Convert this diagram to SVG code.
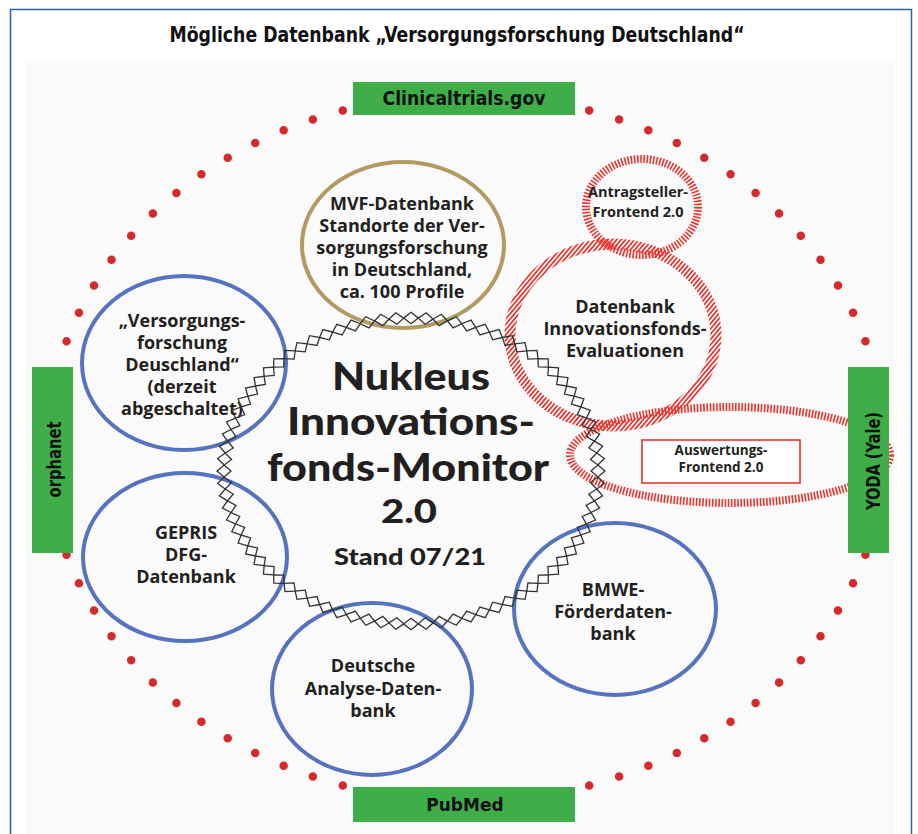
<svg xmlns="http://www.w3.org/2000/svg" xmlns:xlink="http://www.w3.org/1999/xlink" width="918" height="834" viewBox="0 0 918 834">
<style>
.t{font-family:"Open Sans","Noto Sans","DejaVu Sans",sans-serif;font-weight:700;fill:#231f20;text-anchor:middle}
.n18{font-size:18px}
.n13{font-size:13.5px}
.big{font-family:Lato,"Open Sans","DejaVu Sans",sans-serif;font-weight:900;fill:#231f20;text-anchor:middle}
.gbox{fill:#3fae49}
.gl{font-family:"DejaVu Sans Condensed","DejaVu Sans",sans-serif;font-stretch:condensed;font-weight:700;fill:#111;text-anchor:middle}
.blue{fill:none;stroke:#5573c0;stroke-width:4}
.gold{fill:none;stroke:#b39a62;stroke-width:4}
.hatch{fill:none;stroke:#e8352e;stroke-dasharray:1.6 1.6}
.dm{fill:none;stroke:#333;stroke-width:1.3;vector-effect:non-scaling-stroke}
</style>
<defs>
<pattern id="diag" patternUnits="userSpaceOnUse" width="3.4" height="3.4" patternTransform="rotate(40)">
<rect x="0" y="0" width="1.7" height="3.4" fill="#e8352e"/>
</pattern>
<polygon id="dm" class="dm" points="-7.34,-186.9 0,-194 7.34,-186.9 0,-180"/>
</defs>

<rect x="10.5" y="9.5" width="901" height="840" fill="#fff" stroke="#2a62a8" stroke-width="1.5"/>
<rect x="26" y="60" width="868" height="790" fill="#fafafa"/>
<text class="gl" x="457" y="42" font-size="21" textLength="575" lengthAdjust="spacingAndGlyphs">Mögliche Datenbank „Versorgungsforschung Deutschland“</text>

<g id="dotted-ring">
<path d="M466 95 A419 353 0 1 1 466 801 A419 353 0 1 1 466 95 Z" pathLength="78" fill="none" stroke="#d42a2c" stroke-width="8.5" stroke-linecap="round" stroke-dasharray="0 1"/>
</g>

<g id="clinicaltrials">
<rect class="gbox" x="353" y="82" width="222" height="33"/>
<text class="gl" x="464" y="105" font-size="19" textLength="163" lengthAdjust="spacingAndGlyphs">Clinicaltrials.gov</text>
</g>
<g id="pubmed">
<rect class="gbox" x="353" y="787" width="222" height="35"/>
<text x="465" y="811" font-family="'DejaVu Sans',sans-serif" font-weight="700" font-size="17" fill="#111" text-anchor="middle">PubMed</text>
</g>
<g id="orphanet">
<rect class="gbox" x="32" y="367" width="41" height="186"/>
<text class="gl" transform="translate(61 459.5) rotate(-90)" font-size="19" textLength="76" lengthAdjust="spacingAndGlyphs">orphanet</text>
</g>

<g id="auswertungs">
<ellipse class="hatch" cx="730" cy="455" rx="160" ry="48" stroke-width="8"/>
<rect x="642" y="440" width="158" height="43" fill="#fff" stroke="#e8352e" stroke-width="1.6"/>
<text class="t n13" x="721" y="455">Auswertungs-</text>
<text class="t n13" x="721" y="472">Frontend 2.0</text>
</g>

<g id="yoda">
<rect class="gbox" x="848" y="367" width="41" height="186"/>
<text class="gl" transform="translate(880 461) rotate(-90)" font-size="19" textLength="98" lengthAdjust="spacingAndGlyphs">YODA (Yale)</text>
</g>

<g id="mvf">
<ellipse class="gold" cx="403" cy="245" rx="101" ry="83"/>
<text class="t n18" x="402" y="210">MVF-Datenbank</text>
<text class="t n18" x="402" y="232">Standorte der Ver-</text>
<text class="t n18" x="402" y="254">sorgungsforschung</text>
<text class="t n18" x="402" y="276">in Deutschland,</text>
<text class="t n18" x="402" y="298">ca. 100 Profile</text>
</g>

<g id="versorgungsforschung">
<ellipse class="blue" cx="184" cy="363" rx="102" ry="87"/>
<text class="t n18" x="182" y="327">„Versorgungs-</text>
<text class="t n18" x="182" y="349">forschung</text>
<text class="t n18" x="182" y="371">Deuschland“</text>
<text class="t n18" x="182" y="393">(derzeit</text>
<text class="t n18" x="182" y="415">abgeschaltet)</text>
</g>

<g id="gepris">
<ellipse class="blue" cx="185" cy="557" rx="102" ry="84"/>
<text class="t n18" x="186" y="539">GEPRIS</text>
<text class="t n18" x="186" y="561">DFG-</text>
<text class="t n18" x="186" y="583">Datenbank</text>
</g>

<g id="analyse">
<ellipse class="blue" cx="372" cy="689" rx="100" ry="86"/>
<text class="t n18" x="373" y="672">Deutsche</text>
<text class="t n18" x="373" y="695">Analyse-Daten-</text>
<text class="t n18" x="373" y="717">bank</text>
</g>

<g id="bmwe">
<ellipse class="blue" cx="615" cy="609" rx="101" ry="86"/>
<text class="t n18" x="613" y="596">BMWE-</text>
<text class="t n18" x="613" y="618">Förderdaten-</text>
<text class="t n18" x="613" y="640">bank</text>
</g>

<g id="antragsteller">
<ellipse class="hatch" cx="642" cy="207" rx="56" ry="48" stroke-width="8"/>
<text class="t" font-size="14.5" x="638" y="197">Antragsteller-</text>
<text class="t" font-size="14.5" x="638" y="217">Frontend 2.0</text>
</g>

<g id="innovationsfonds-db">
<ellipse cx="613" cy="335" rx="103" ry="91" fill="none" stroke="url(#diag)" stroke-width="11"/>
<text class="t n18" x="625" y="313">Datenbank</text>
<text class="t n18" x="625" y="335">Innovationsfonds-</text>
<text class="t n18" x="625" y="357">Evaluationen</text>
</g>

<g id="nukleus">
<g id="zigzag" transform="translate(411 471) scale(1 0.818)">
<g id="z8">
<use xlink:href="#dm" href="#dm"/>
<use xlink:href="#dm" href="#dm" transform="rotate(4.5)"/>
<use xlink:href="#dm" href="#dm" transform="rotate(9)"/>
<use xlink:href="#dm" href="#dm" transform="rotate(13.5)"/>
<use xlink:href="#dm" href="#dm" transform="rotate(18)"/>
<use xlink:href="#dm" href="#dm" transform="rotate(22.5)"/>
<use xlink:href="#dm" href="#dm" transform="rotate(27)"/>
<use xlink:href="#dm" href="#dm" transform="rotate(31.5)"/>
</g>
<use xlink:href="#z8" href="#z8" transform="rotate(36)"/>
<use xlink:href="#z8" href="#z8" transform="rotate(72)"/>
<use xlink:href="#z8" href="#z8" transform="rotate(108)"/>
<use xlink:href="#z8" href="#z8" transform="rotate(144)"/>
<use xlink:href="#z8" href="#z8" transform="rotate(180)"/>
<use xlink:href="#z8" href="#z8" transform="rotate(216)"/>
<use xlink:href="#z8" href="#z8" transform="rotate(252)"/>
<use xlink:href="#z8" href="#z8" transform="rotate(288)"/>
<use xlink:href="#z8" href="#z8" transform="rotate(324)"/>
</g>
<text class="big" x="411" y="390" font-size="38" textLength="158" lengthAdjust="spacingAndGlyphs">Nukleus</text>
<text class="big" x="411" y="435" font-size="38" textLength="248" lengthAdjust="spacingAndGlyphs">Innovations-</text>
<text class="big" x="408" y="481" font-size="38" textLength="282" lengthAdjust="spacingAndGlyphs">fonds-Monitor</text>
<text class="big" x="409" y="523" font-size="33" textLength="56" lengthAdjust="spacingAndGlyphs">2.0</text>
<text class="big" x="410" y="565" font-size="23" textLength="152" lengthAdjust="spacingAndGlyphs">Stand 07/21</text>
</g>
</svg>
